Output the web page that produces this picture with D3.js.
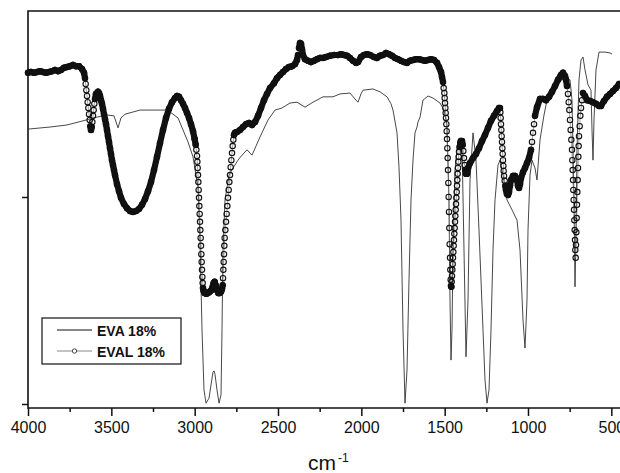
<!DOCTYPE html>
<html>
<head>
<meta charset="utf-8">
<script src="https://cdn.jsdelivr.net/npm/d3@7"></script>
<style>
  body { margin: 0; background: #fff; }
  text { font-family: "Liberation Sans", Arial, sans-serif; fill: #111; }
</style>
</head>
<body>
<div id="my_dataviz"></div>
<script>
// spectra: [wavenumber cm-1, transmittance (arb.)]
var evaSpectrum = [
  [4000,66.4],[3868,66.9],[3766,67.4],[3670,68.4],[3586,69.3],[3526,69.8],[3484,69.6],[3460,66.7],[3442,69.1],[3418,70.0],
  [3328,71.0],[3166,71.0],[3130,70.0],[3100,69.1],[3070,66.2],[3040,63.3],[3010,59.7],[2980,52.4],[2968,39.6],[2956,17.9],
  [2944,3.4],[2932,0.2],[2914,1.4],[2902,4.6],[2890,7.7],[2884,8.0],[2878,7.2],[2866,3.4],[2854,0.2],[2842,2.2],
  [2836,17.9],[2830,37.2],[2818,49.3],[2794,55.3],[2770,57.0],[2740,58.9],[2716,60.1],[2686,61.4],[2656,60.1],[2632,62.3],
  [2608,64.5],[2560,68.6],[2518,71.0],[2476,71.5],[2428,72.7],[2386,72.9],[2338,71.7],[2290,72.9],[2230,74.2],[2170,74.2],
  [2128,74.9],[2068,75.1],[2032,73.4],[2020,72.9],[2002,74.9],[1990,75.8],[1930,76.1],[1888,75.4],[1846,74.2],[1822,72.5],
  [1810,71.0],[1786,65.5],[1774,57.2],[1762,44.4],[1750,17.9],[1738,0.2],[1726,8.2],[1714,30.0],[1702,49.3],[1690,58.9],
  [1678,65.5],[1672,66.2],[1666,66.9],[1660,68.1],[1648,69.3],[1630,73.4],[1600,74.4],[1570,73.9],[1528,72.7],[1504,71.0],
  [1486,67.4],[1474,49.3],[1468,25.1],[1462,10.6],[1456,17.9],[1450,37.2],[1438,56.5],[1420,63.8],[1408,64.3],[1396,62.6],
  [1384,37.2],[1372,11.4],[1360,25.1],[1348,54.1],[1330,65.5],[1312,58.9],[1294,42.0],[1270,17.9],[1258,5.8],[1246,0.2],
  [1234,3.4],[1222,17.9],[1210,37.2],[1198,49.3],[1180,57.7],[1168,58.9],[1150,55.3],[1126,49.3],[1096,46.9],[1066,44.4],
  [1048,37.2],[1030,20.3],[1018,13.5],[1006,25.1],[1000,42.0],[988,55.3],[976,58.9],[958,57.0],[946,54.1],[928,63.8],
  [904,69.8],[886,73.4],[856,75.8],[820,77.8],[778,78.7],[748,78.3],[736,73.4],[724,49.3],[718,28.3],[712,42.0],
  [706,61.4],[694,78.3],[682,83.1],[670,83.8],[658,80.7],[640,77.1],[622,75.8],[616,66.2],[610,58.9],[604,68.6],
  [592,80.7],[574,85.0],[538,85.0],[508,84.8],[496,84.5]
];

var evalSpectrum = [
  [4000,80.0],[3982,80.2],[3964,80.0],[3946,80.2],[3928,80.4],[3910,80.2],[3892,80.0],[3874,80.2],[3856,80.4],[3838,80.7],
  [3820,80.4],[3802,80.7],[3784,81.2],[3766,81.4],[3748,81.6],[3730,81.9],[3712,81.6],[3694,81.6],[3676,80.9],[3664,80.0],
  [3658,78.7],[3654,77.3],[3650,75.8],[3646,74.4],[3642,72.9],[3638,71.5],[3634,70.0],[3630,68.6],[3626,67.1],[3622,66.2],
  [3618,66.9],[3614,68.1],[3610,69.6],[3606,71.0],[3602,72.5],[3598,73.7],[3592,74.9],[3586,75.1],[3580,75.4],[3574,75.1],
  [3568,74.4],[3562,73.4],[3556,72.5],[3550,71.3],[3544,70.0],[3538,68.8],[3532,67.6],[3526,66.2],[3520,64.7],[3514,63.3],
  [3508,61.8],[3502,60.4],[3496,58.9],[3490,57.7],[3484,56.5],[3478,55.3],[3466,53.1],[3454,51.4],[3442,49.8],[3424,48.3],
  [3406,47.3],[3388,46.6],[3370,46.4],[3352,46.6],[3334,47.1],[3316,48.1],[3298,49.5],[3280,51.4],[3262,53.6],[3244,56.5],
  [3226,59.7],[3208,63.0],[3190,66.2],[3172,69.1],[3154,71.3],[3136,72.9],[3118,73.9],[3106,74.4],[3094,74.2],[3082,73.4],
  [3070,72.5],[3058,71.5],[3046,70.3],[3034,69.1],[3022,67.6],[3010,65.9],[3000,64.0],[2994,62.6],[2990,61.4],
  [2986,59.9],[2984,58.5],[2982,57.0],[2980,55.3],[2978,53.6],[2976,51.7],[2974,49.8],[2972,47.8],[2970,45.9],[2968,44.0],
  [2966,42.0],[2964,40.1],[2962,38.2],[2960,36.2],[2958,34.3],[2956,32.4],[2954,30.7],[2952,29.2],[2950,28.0],[2946,27.3],
  [2940,26.8],[2930,26.6],[2920,26.8],[2910,27.1],[2900,27.5],[2892,28.3],[2886,29.2],[2880,29.5],[2874,28.7],[2866,27.5],
  [2858,26.8],[2850,26.8],[2842,27.1],[2836,27.8],[2832,28.7],[2830,30.4],[2828,32.4],[2826,34.3],[2824,36.2],[2822,38.2],
  [2820,40.1],[2816,42.0],[2812,44.0],[2808,45.9],[2804,47.8],[2800,49.8],[2796,51.7],[2792,53.6],[2788,55.3],[2784,57.2],
  [2780,58.9],[2776,60.6],[2772,62.3],[2768,63.8],[2764,65.0],[2758,65.5],
  [2746,65.7],[2728,66.2],[2710,66.9],[2692,67.6],[2674,67.9],[2656,67.4],[2638,68.1],[2620,69.6],[2602,71.5],[2584,73.4],
  [2566,74.9],[2548,76.3],[2524,77.5],[2506,78.7],[2488,79.5],[2470,80.2],[2452,80.9],[2434,81.4],[2416,81.6],[2398,82.1],
  [2386,83.1],[2380,84.3],[2374,86.0],[2368,87.2],[2362,87.0],[2356,85.7],[2350,84.3],[2338,83.3],[2320,82.9],[2302,82.6],
  [2284,82.9],[2266,83.3],[2248,83.6],[2230,83.6],[2212,83.8],[2188,84.1],[2164,84.3],[2140,84.3],[2122,84.5],[2104,84.3],
  [2086,84.1],[2068,83.6],[2050,82.9],[2032,82.4],[2020,82.6],[2002,83.8],[1984,84.3],[1966,84.5],[1948,84.3],[1924,83.8],
  [1906,83.6],[1888,84.1],[1870,84.3],[1852,84.8],[1834,84.5],[1816,84.1],[1798,83.6],[1780,83.3],[1762,82.9],[1744,82.6],
  [1726,82.4],[1708,82.9],[1690,83.1],[1672,83.3],[1654,83.3],[1636,83.1],[1618,82.9],[1600,83.1],[1582,83.3],[1564,83.1],
  [1546,82.4],[1534,81.4],[1522,80.2],[1516,79.0],[1510,77.8],[1506,76.3],[1502,75.1],
  [1500,73.9],[1498,72.7],[1496,71.5],[1494,70.3],[1492,69.1],[1490,67.6],[1488,65.9],[1486,64.0],[1484,61.8],[1482,59.4],
  [1480,56.5],[1478,53.4],[1476,50.0],[1474,46.4],[1472,42.5],[1470,38.6],[1468,35.3],[1466,32.4],[1464,30.0],[1462,28.5],
  [1460,28.3],[1458,29.5],[1456,30.9],[1454,32.4],[1452,33.8],[1450,35.3],[1448,36.7],[1446,38.2],[1444,39.6],[1442,41.1],
  [1440,42.5],[1438,44.0],[1436,45.4],[1434,46.9],[1432,48.3],[1430,49.8],[1428,51.2],[1426,52.7],[1424,54.1],[1422,55.6],
  [1420,57.0],[1418,58.5],[1416,59.7],[1414,60.9],[1410,62.1],[1406,63.0],[1402,63.5],[1396,63.5],[1392,62.6],[1388,61.1],
  [1384,59.4],[1380,57.7],[1376,56.5],[1372,55.6],[1366,55.6],[1360,57.0],[1348,58.2],[1330,59.4],[1312,60.4],[1294,61.8],
  [1276,63.5],[1258,65.0],[1240,66.7],[1222,68.4],[1204,69.6],[1186,70.8],[1174,71.5],[1168,71.5],
  [1166,70.5],[1164,69.1],[1162,67.6],[1160,66.2],[1158,64.7],[1156,63.3],[1154,61.8],[1152,60.4],[1150,58.9],[1148,57.5],
  [1146,56.3],[1144,55.1],[1140,53.9],[1136,52.7],[1132,51.7],[1126,50.7],[1120,50.5],[1114,51.2],[1108,52.7],[1102,54.1],
  [1090,55.1],[1078,55.1],[1066,54.1],[1060,52.7],[1054,52.2],[1048,53.1],[1042,54.6],[1030,56.0],[1018,57.0],[1006,58.2],
  [994,59.4],[982,61.4],[976,63.3],[970,65.5],[964,67.6],[958,69.6],[946,71.7],[928,73.7],[910,73.7],[892,73.4],
  [874,74.2],[856,75.4],[838,76.8],[820,78.3],[802,79.5],[790,80.0],[778,79.2],[772,78.3],[766,76.8],[760,74.9],
  [756,72.9],[752,71.0],[748,68.6],[744,66.2],[740,63.8],[736,61.4],[734,58.9],[732,56.5],[730,54.1],[728,51.7],
  [726,49.3],[724,46.9],[722,44.4],[720,42.0],[718,39.6],[716,37.2],[714,35.3],[712,38.4],[710,41.5],[708,44.9],
  [706,48.1],[704,51.2],[702,54.1],[700,57.0],[698,59.7],[696,62.3],[694,64.7],[690,67.1],[686,69.6],[682,71.5],
  [676,73.4],[670,75.1],[658,74.4],[646,73.4],[628,73.2],[610,72.9],[592,72.5],[574,72.0],[562,72.0],[544,73.2],
  [526,74.2],[508,74.9],[490,75.6],[472,76.3],[454,77.3]
];

var majorTicks = [4000, 3500, 3000, 2500, 2000, 1500, 1000, 500];
var minorTicks = [3750, 3250, 2750, 2250, 1750, 1250, 750];
var yTicks = [0, 50];
var legendLabels = ["EVA 18%", "EVAL 18%"];
var axisTitle = "cm";
var axisTitleSup = "-1";

// set the dimensions and margins of the graph
var margin = { top: 11, right: 0, bottom: 65, left: 28 },
    width = 597,
    height = 397;

var svg = d3.select("#my_dataviz")
    .append("svg")
    .attr("width", 620)
    .attr("height", 473)
    .style("display", "block")
    .append("g")
    .attr("transform", "translate(" + margin.left + "," + margin.top + ")");

var x = d3.scaleLinear().domain([4000, 418]).range([0, width]);
var y = d3.scaleLinear().domain([-0.97, 94.93]).range([height, 0]);

// minor x ticks
svg.append("g")
    .attr("transform", "translate(0," + height + ")")
    .call(d3.axisBottom(x).tickValues(minorTicks).tickSize(4).tickFormat(""))
    .call(g => g.select(".domain").remove())
    .selectAll("line").attr("stroke", "#111").attr("stroke-width", 1.5);

// major x ticks + labels
var xAxis = svg.append("g")
    .attr("transform", "translate(0," + height + ")")
    .call(d3.axisBottom(x).tickValues(majorTicks).tickSize(8).tickPadding(6).tickFormat(d3.format("d")));
xAxis.select(".domain").remove();
xAxis.selectAll("line").attr("stroke", "#111").attr("stroke-width", 1.5);
xAxis.selectAll("text").style("font-size", "16px").attr("fill", "#111")
    .style("font-family", "'Liberation Sans', Arial, sans-serif");

// y ticks, no labels
var yAxis = svg.append("g")
    .call(d3.axisLeft(y).tickValues(yTicks).tickSize(6).tickFormat(""));
yAxis.select(".domain").remove();
yAxis.selectAll("line").attr("stroke", "#111").attr("stroke-width", 1.5);

// frame (left, top, bottom)
svg.append("path")
    .attr("d", "M" + width + ",0H0V" + height + "H" + width)
    .attr("fill", "none")
    .attr("stroke", "#111")
    .attr("stroke-width", 1.6);

// EVA: thin line
var line = d3.line()
    .x(function (d) { return x(d[0]); })
    .y(function (d) { return y(d[1]); });

svg.append("path")
    .datum(evaSpectrum)
    .attr("fill", "none")
    .attr("stroke", "#333")
    .attr("stroke-width", 0.9)
    .attr("d", line);

// EVAL: line + open circles; where the sampled points crowd together the
// symbols merge into a solid band, so shallow segments get a heavy stroke
svg.append("path")
    .datum(evalSpectrum)
    .attr("fill", "none")
    .attr("stroke", "#777")
    .attr("stroke-width", 0.7)
    .attr("d", line);

var segs = [];
for (var i = 1; i < evalSpectrum.length; i++) {
    var a = evalSpectrum[i - 1], b = evalSpectrum[i];
    var dx = Math.abs(x(b[0]) - x(a[0])), dy = Math.abs(y(b[1]) - y(a[1]));
    if (dy <= 7 * dx) segs.push([a, b]);
}
svg.append("g").selectAll("line")
    .data(segs)
    .enter().append("line")
    .attr("x1", function (d) { return x(d[0][0]); })
    .attr("y1", function (d) { return y(d[0][1]); })
    .attr("x2", function (d) { return x(d[1][0]); })
    .attr("y2", function (d) { return y(d[1][1]); })
    .attr("stroke", "#111")
    .attr("stroke-width", 6.2)
    .attr("stroke-linecap", "round");

svg.append("g").selectAll("circle")
    .data(evalSpectrum)
    .enter().append("circle")
    .attr("cx", function (d) { return x(d[0]); })
    .attr("cy", function (d) { return y(d[1]); })
    .attr("r", 2.7)
    .attr("fill", "none")
    .attr("stroke", "#111")
    .attr("stroke-width", 1.1);

// legend
var legend = svg.append("g").attr("transform", "translate(14,307)");
legend.append("rect")
    .attr("x", 0).attr("y", 0).attr("width", 139).attr("height", 46)
    .attr("fill", "#fff").attr("stroke", "#111").attr("stroke-width", 1.2);
legend.append("line")
    .attr("x1", 15).attr("x2", 50).attr("y1", 12).attr("y2", 12)
    .attr("stroke", "#111").attr("stroke-width", 1);
legend.append("line")
    .attr("x1", 15).attr("x2", 50).attr("y1", 33).attr("y2", 33)
    .attr("stroke", "#888").attr("stroke-width", 1);
legend.append("circle")
    .attr("cx", 32.5).attr("cy", 33).attr("r", 2.2)
    .attr("fill", "#fff").attr("stroke", "#333").attr("stroke-width", 0.9);
legend.selectAll("text.lab")
    .data(legendLabels)
    .enter().append("text")
    .attr("class", "lab")
    .attr("x", 55)
    .attr("y", function (d, i) { return 17.5 + i * 21; })
    .style("font-size", "14px")
    .style("font-weight", "bold")
    .text(function (d) { return d; });

// x axis title
var title = svg.append("text")
    .attr("x", 280)
    .attr("y", 459)
    .style("font-size", "21px");
title.append("tspan").text(axisTitle);
title.append("tspan")
    .attr("dx", 2).attr("dy", -8)
    .style("font-size", "12px")
    .text(axisTitleSup);
</script>
</body>
</html>
